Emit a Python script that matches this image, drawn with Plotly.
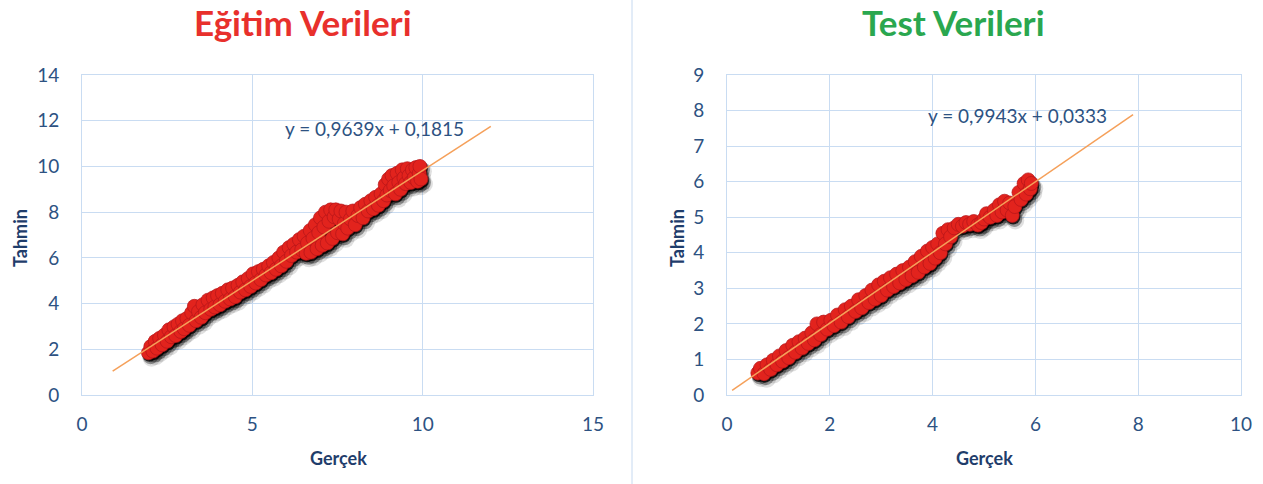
import plotly.graph_objects as go

# ---------------- data ----------------
train_x = [1.95, 2.02, 2.08, 2.15, 2.2, 2.28, 2.35, 2.42, 2.5, 2.55, 2.62, 2.7, 2.75, 2.82, 2.9, 2.95, 3.0,
           3.08, 3.15, 3.22, 3.3, 3.35, 3.42, 3.5, 3.55, 3.62, 3.7, 3.78, 3.85, 3.9, 3.98, 4.05, 4.12, 4.2, 4.28, 4.35, 4.42, 4.5,
           4.58, 4.65, 4.72, 4.8, 4.88, 4.95, 5.02, 5.1, 5.18, 5.25, 5.32, 5.4, 5.48, 5.55, 5.62, 5.7, 5.78, 5.85, 5.92, 6.0,
           6.08, 6.15, 6.22, 6.3, 6.38, 6.45, 6.52, 6.58, 6.62,
           6.7, 6.72, 6.78, 6.85, 6.9, 6.95, 7.0, 7.05, 7.1, 7.15, 7.2, 7.25, 7.3, 7.35, 7.4, 7.45, 7.5, 7.55, 7.6, 7.65, 7.7, 7.75, 7.8,
           7.88, 7.95, 8.02, 8.1, 8.18, 8.25, 8.32, 8.4, 8.48, 8.55, 8.62, 8.7, 8.78,
           8.85, 8.9, 8.95, 9.0, 9.05, 9.1, 9.15, 9.2, 9.25, 9.3, 9.35, 9.4, 9.45, 9.5, 9.55, 9.6, 9.65, 9.7, 9.75, 9.8, 9.85, 9.9, 9.92, 9.95]
train_y = [1.85, 2.12, 1.92, 2.35, 2.05, 2.48, 2.2, 2.62, 2.35, 2.85, 2.55, 2.98, 2.6, 3.1, 2.78, 3.25, 2.9,
           3.35, 3.05, 3.6, 3.88, 3.25, 3.65, 3.4, 3.95, 3.6, 4.15, 3.75, 4.25, 3.85, 4.35, 3.95, 4.45, 4.1, 4.6, 4.2, 4.68, 4.3,
           4.8, 4.5, 4.95, 4.6, 5.1, 4.75, 5.3, 4.9, 5.4, 5.05, 5.5, 5.25, 5.65, 5.35, 5.8, 5.5, 6.0, 5.65, 6.25, 5.85,
           6.45, 6.1, 6.6, 6.25, 6.8, 6.35, 6.95, 6.2, 6.65,
           7.2, 6.25, 6.85, 7.45, 6.4, 7.1, 7.75, 6.55, 7.35, 8.0, 6.65, 7.6, 8.1, 6.85, 7.8, 8.1, 7.1, 7.7, 8.05, 7.05, 7.5, 8.0, 7.3,
           7.7, 8.05, 7.45, 7.85, 8.2, 7.75, 8.35, 8.05, 8.5, 8.15, 8.65, 8.3, 8.8,
           8.5, 9.2, 8.75, 9.45, 8.95, 9.6, 9.15, 8.8, 9.7, 9.3, 9.0, 9.85, 9.5, 9.25, 9.9, 9.6, 9.3, 9.85, 9.5, 9.95, 9.35, 9.7, 10.0, 9.45]

test_x = [0.6, 0.65, 0.72, 0.78, 0.85, 0.9, 0.97, 1.02, 1.08, 1.15, 1.2, 1.28, 1.33, 1.4, 1.46, 1.52, 1.58, 1.65, 1.7, 1.75, 1.82, 1.88, 1.95, 2.02, 2.08,
          2.15, 2.22, 2.3, 2.36, 2.42, 2.5, 2.56, 2.62, 2.7, 2.76, 2.82, 2.88, 2.95, 3.0, 3.06, 3.12, 3.18, 3.24, 3.3, 3.36, 3.42, 3.48,
          3.55, 3.6, 3.66, 3.72, 3.78, 3.84, 3.9, 3.95, 4.0, 4.05, 4.1, 4.15, 4.2, 4.25, 4.3, 4.35,
          4.42, 4.5, 4.58, 4.65, 4.72, 4.8, 4.88, 4.95, 5.0, 5.05,
          5.12, 5.2, 5.25, 5.3, 5.35, 5.4, 5.45, 5.5, 5.55, 5.6,
          5.68, 5.72, 5.78, 5.82, 5.86, 5.9, 5.92]
test_y = [0.62, 0.75, 0.6, 0.85, 0.72, 0.98, 0.85, 1.1, 0.95, 1.25, 1.05, 1.4, 1.2, 1.5, 1.32, 1.6, 1.45, 1.75, 1.55, 2.0, 1.7, 2.05, 1.85, 2.1, 1.95,
          2.25, 2.05, 2.4, 2.2, 2.5, 2.35, 2.68, 2.45, 2.8, 2.6, 2.95, 2.7, 3.1, 2.8, 3.2, 2.95, 3.3, 3.05, 3.4, 3.15, 3.5, 3.25,
          3.6, 3.35, 3.75, 3.45, 3.9, 3.6, 4.05, 3.7, 4.15, 3.85, 4.25, 4.0, 4.55, 4.25, 4.65, 4.45,
          4.7, 4.8, 4.75, 4.85, 4.8, 4.88, 4.78, 4.85, 4.95, 5.1,
          5.0, 5.2, 5.05, 5.35, 5.15, 5.45, 5.2, 5.4, 5.05, 5.3,
          5.7, 5.5, 5.95, 5.65, 6.05, 5.8, 5.95]

train_slope, train_intercept = 0.9639, 0.1815
test_slope, test_intercept = 0.9943, 0.0333
train_line_x = [0.9, 12.0]
test_line_x = [0.1, 7.9]

train_title = "Eğitim Verileri"
test_title = "Test Verileri"
train_eq = "y = 0,9639x + 0,1815"
test_eq = "y = 0,9943x + 0,0333"
x_title = "Gerçek"
y_title = "Tahmin"

train_xrange, train_yrange = [0, 15], [0, 14]
test_xrange, test_yrange = [0, 10], [0, 9]
train_xticks, train_yticks = [0, 5, 10, 15], [0, 2, 4, 6, 8, 10, 12, 14]
test_xticks, test_yticks = [0, 2, 4, 6, 8, 10], [0, 1, 2, 3, 4, 5, 6, 7, 8, 9]

# ---------------- layout geometry ----------------
W, H = 1263, 484
left_dom = [82 / W, 593 / W]
right_dom = [727 / W, 1241 / W]
y_dom = [1 - 395 / H, 1 - 75 / H]
plot_h_px = 320

FONT = "Lato, 'Open Sans', sans-serif"
TICK_COLOR = "#2d5282"
TITLE_COLOR = "#1f3d6b"
GRID = "#c9dcf2"
RED = "#e2231d"
RED_EDGE = "#b3161a"
ORANGE = "#f5a05a"

fig = go.Figure()


def add_panel(xs, ys, slope, intercept, line_x, xr, yr, xa, ya, w_px):
    # shadow offsets expressed in pixels -> data units via the axis scale
    ux = (xr[1] - xr[0]) / w_px
    uy = (yr[1] - yr[0]) / plot_h_px
    for dxp, dyp, size, op in [(3, 5, 18, 0.12), (2, 3.5, 16, 0.35), (1, 2, 14, 0.8)]:
        fig.add_trace(go.Scatter(
            x=[v + dxp * ux for v in xs], y=[v - dyp * uy for v in ys],
            mode="markers", xaxis=xa, yaxis=ya, hoverinfo="skip",
            marker=dict(size=size, color="black", opacity=op, line=dict(width=0)),
            showlegend=False))
    fig.add_trace(go.Scatter(
        x=xs, y=ys, mode="markers", xaxis=xa, yaxis=ya,
        marker=dict(size=14, color=RED, line=dict(color=RED_EDGE, width=0.7)),
        showlegend=False))
    fig.add_trace(go.Scatter(
        x=line_x, y=[slope * v + intercept for v in line_x], mode="lines",
        xaxis=xa, yaxis=ya, line=dict(color=ORANGE, width=1.5), showlegend=False,
        hoverinfo="skip"))


add_panel(train_x, train_y, train_slope, train_intercept, train_line_x,
          train_xrange, train_yrange, "x", "y", 593 - 82)
add_panel(test_x, test_y, test_slope, test_intercept, test_line_x,
          test_xrange, test_yrange, "x2", "y2", 1241 - 727)

axis_common = dict(showgrid=True, gridcolor=GRID, gridwidth=1, zeroline=False,
                   showline=True, linecolor=GRID, linewidth=1, mirror=True,
                   tickfont=dict(family=FONT, size=19, color=TICK_COLOR),
                   ticks="", fixedrange=True, automargin=False)


def note(text, x, y, size, color, xref="paper", yref="paper", xanchor="center", angle=0):
    return dict(text=text, xref=xref, yref=yref, x=x, y=y, xanchor=xanchor, yanchor="middle",
                textangle=angle, showarrow=False, font=dict(family=FONT, size=size, color=color))


fig.update_layout(
    width=W, height=H, margin=dict(l=0, r=0, t=0, b=0, pad=0, autoexpand=False),
    paper_bgcolor="white", plot_bgcolor="white",
    xaxis=dict(domain=left_dom, range=train_xrange, tickvals=train_xticks,
               anchor="y", ticklabelstandoff=12, **axis_common),
    yaxis=dict(domain=y_dom, range=train_yrange, tickvals=train_yticks,
               anchor="x", ticklabelstandoff=18, **axis_common),
    xaxis2=dict(domain=right_dom, range=test_xrange, tickvals=test_xticks,
                anchor="y2", ticklabelstandoff=12, **axis_common),
    yaxis2=dict(domain=y_dom, range=test_yrange, tickvals=test_yticks,
                anchor="x2", ticklabelstandoff=18, **axis_common),
    shapes=[dict(type="line", xref="paper", yref="paper", x0=632 / W, x1=632 / W,
                 y0=0, y1=1, line=dict(color="#c6d9f0", width=1))],
    annotations=[
        note(f"<b>{train_title}</b>", 303 / W, 1 - 22 / H, 35, "#e8302c"),
        note(f"<b>{test_title}</b>", 953 / W, 1 - 22 / H, 35, "#2aa74f"),
        note(train_eq, 5.9, 11.64, 19, TICK_COLOR, "x", "y", "left"),
        note(test_eq, 3.87, 7.85, 19, TICK_COLOR, "x2", "y2", "left"),
        note(f"<b>{x_title}</b>", 338 / W, 1 - 458 / H, 18, TITLE_COLOR),
        note(f"<b>{x_title}</b>", 984 / W, 1 - 458 / H, 18, TITLE_COLOR),
        note(f"<b>{y_title}</b>", 20 / W, 1 - 238 / H, 18, TITLE_COLOR, angle=-90),
        note(f"<b>{y_title}</b>", 677 / W, 1 - 238 / H, 18, TITLE_COLOR, angle=-90),
    ],
)

fig.write_html("out.html")
